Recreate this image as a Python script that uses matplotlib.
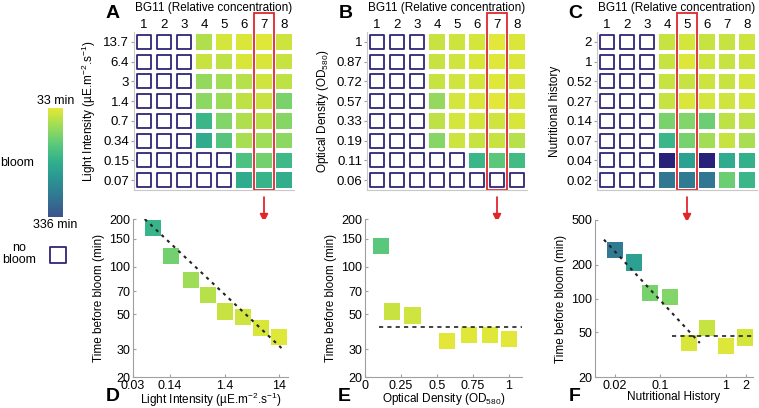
"""
Bloom timing heatmaps (A-C) with the highlighted column replotted below (D-F).
"""

import numpy as np
import matplotlib.pyplot as plt
from matplotlib.colors import ListedColormap, Normalize
from matplotlib.patches import Rectangle
from matplotlib.cm import ScalarMappable
from matplotlib.ticker import NullFormatter
import matplotlib.transforms as mtransforms

plt.rcParams['font.family'] = ['Liberation Sans', 'DejaVu Sans']
plt.rcParams['mathtext.fontset'] = 'custom'
plt.rcParams['mathtext.rm'] = 'Liberation Sans'
plt.rcParams['font.size'] = 8.5

N = np.nan

# ---- data -------------------------------------------------------------
bg11_cols = [1, 2, 3, 4, 5, 6, 7, 8]

light_levels = [13.7, 6.4, 3, 1.4, 0.7, 0.34, 0.15, 0.07]
light_times = [
    [N, N, N, 70, 45, 40, 36, 50],
    [N, N, N, 55, 60, 42, 41, 55],
    [N, N, N, 90, 80, 65, 48, 60],
    [N, N, N, 95, 85, 60, 52, 110],
    [N, N, N, 170, 105, 70, 66, 100],
    [N, N, N, 190, 140, 75, 82, 95],
    [N, N, N, N, N, 150, 116, 165],
    [N, N, N, N, N, 190, 175, 185],
]

od_levels = [1, 0.87, 0.72, 0.57, 0.33, 0.19, 0.11, 0.06]
od_times = [
    [N, N, N, 52, 50, 45, 35, 40],
    [N, N, N, 52, 48, 42, 37, 40],
    [N, N, N, 55, 48, 45, 37, 42],
    [N, N, N, 90, 45, 40, 34, 40],
    [N, N, N, 60, 45, 45, 49, 42],
    [N, N, N, 100, 50, 55, 52, 65],
    [N, N, N, N, N, 170, 135, 160],
    [N, N, N, N, N, N, N, N],
]

nutri_levels = [2, 1, 0.52, 0.27, 0.14, 0.07, 0.04, 0.02]
nutri_times = [
    [N, N, N, 55, 45, 55, 55, 50],
    [N, N, N, 55, 38, 50, 55, 50],
    [N, N, N, 55, 55, 50, 55, 45],
    [N, N, N, 55, 40, 45, 48, 45],
    [N, N, N, 110, 103, 120, 60, 60],
    [N, N, N, 170, 112, 80, 55, 75],
    [N, N, N, 400, 209, 450, 190, 180],
    [N, N, N, 280, 272, 280, 120, 170],
]

# highlighted column (1-based BG11 concentration) for each panel
light_col = 7
od_col = 7
nutri_col = 5

# fitted trends drawn on the lower panels
light_fit_x = [0.049, 15.2]
light_fit_y = [200, 30.5]
od_fit_x = [0.1, 1.09]
od_fit_y = [41.4, 41.4]
nutri_fit_x = [0.0137, 0.40]
nutri_fit_y = [334, 40.2]
nutri_plateau_x = [0.152, 2.6]
nutri_plateau_y = [46.5, 46.5]

t_min, t_max = 33, 336

# ---- style ------------------------------------------------------------
W, H = 759, 408
NAVY = '#2e2676'
RED = '#e0262b'
GREY = '#a0a0a0'

# viridis section, yellow end slightly washed out like the print
base = plt.cm.viridis(np.linspace(0.25, 0.95, 256))[::-1]
wash = np.linspace(0.14, 0.0, 256)[:, None]
base[:, :3] = base[:, :3] * (1 - wash) + wash
cmap = ListedColormap(base)
cmap.set_over('#28217a')
norm = Normalize(t_min, t_max)

fig = plt.figure(figsize=(W / 100, H / 100), dpi=100)


def px_axes(left, top, right, bottom):
    return fig.add_axes([left / W, 1 - bottom / H, (right - left) / W, (bottom - top) / H])


def heatmap(ax, levels, times, ylabel, col, letter):
    times = np.array(times, dtype=float)
    nrow = len(levels)
    yy, xx = np.mgrid[0:nrow, 0:len(bg11_cols)]
    xs = np.array(bg11_cols)[xx].ravel()
    ys = (nrow - yy).ravel()
    v = times.ravel()
    empty = np.isnan(v)
    ax.scatter(xs[empty], ys[empty], s=100, marker='s', facecolor='white',
               edgecolor=NAVY, linewidth=1.3)
    ax.scatter(xs[~empty], ys[~empty], c=v[~empty], cmap=cmap, norm=norm,
               s=121, marker='s', linewidth=0)
    ax.set_xlim(0.5, len(bg11_cols) + 0.5)
    ax.set_ylim(0.5, nrow + 0.5)
    ax.set_xticks(bg11_cols)
    ax.set_xticklabels([str(c) for c in bg11_cols])
    ax.xaxis.tick_top()
    ax.tick_params(axis='x', length=0, pad=1, labelsize=9.5)
    ax.set_yticks(np.arange(nrow, 0, -1))
    ax.set_yticklabels(['%g' % lv for lv in levels])
    ax.tick_params(axis='y', length=2, color=GREY, pad=1.5, labelsize=9.5)
    ax.set_ylabel(ylabel, labelpad=4)
    for s in ['top', 'right']:
        ax.spines[s].set_visible(False)
    for s in ['left', 'bottom']:
        ax.spines[s].set_color('#c8c8c8')
        ax.spines[s].set_linewidth(0.8)
    ax.text(0.5, 1.15, 'BG11 (Relative concentration)', transform=ax.transAxes,
            ha='center', va='center')
    ax.text(-0.135, 1.12, letter, transform=ax.transAxes, ha='center', va='center',
            fontsize=14, fontweight='bold')
    trans = mtransforms.blended_transform_factory(ax.transData, ax.transAxes)
    ax.add_patch(Rectangle((col - 0.5, 0.0), 1, 1.12, transform=trans, fill=False,
                           edgecolor=RED, linewidth=1.3, clip_on=False))
    ax.annotate('', xy=(col, -0.205), xytext=(col, -0.045),
                xycoords=('data', 'axes fraction'),
                arrowprops=dict(arrowstyle='-|>', color=RED, lw=1.3,
                                mutation_scale=12, shrinkA=0, shrinkB=0))


def lower(ax, x, y, xlabel, letter):
    ax.scatter(x, y, c=y, cmap=cmap, norm=norm, s=135, marker='s', linewidth=0,
               zorder=2)
    ax.set_yscale('log')
    ax.set_ylabel('Time before bloom (min)', labelpad=3)
    ax.set_xlabel(xlabel, labelpad=-0.5)
    for s in ['top', 'right']:
        ax.spines[s].set_visible(False)
    for s in ['left', 'bottom']:
        ax.spines[s].set_color(GREY)
        ax.spines[s].set_linewidth(0.8)
    ax.tick_params(which='both', direction='in', length=2.5, color=GREY, pad=2,
                   labelsize=9)
    ax.tick_params(which='minor', length=0)
    ax.yaxis.set_minor_formatter(NullFormatter())
    ax.xaxis.set_minor_formatter(NullFormatter())
    ax.text(-0.13, -0.125, letter, transform=ax.transAxes, ha='center', va='center',
            fontsize=14, fontweight='bold')


def column(levels, times, col):
    xs, ys = [], []
    for lv, row in zip(levels, times):
        if not np.isnan(row[col - 1]):
            xs.append(lv)
            ys.append(row[col - 1])
    return np.array(xs), np.array(ys)


# ---- heatmaps ---------------------------------------------------------
axA = px_axes(134, 32, 294, 190)
heatmap(axA, light_levels, light_times,
        r'Light Intensity (µE.m$^{\mathregular{-2}}$.s$^{\mathregular{-1}}$)', light_col, 'A')
axB = px_axes(367, 32, 527, 190)
heatmap(axB, od_levels, od_times, r'Optical Density (OD$_{\mathregular{580}}$)', od_col, 'B')
axC = px_axes(597, 32, 757, 190)
heatmap(axC, nutri_levels, nutri_times, 'Nutritional history', nutri_col, 'C')

# ---- lower panels -----------------------------------------------------
axD = px_axes(133, 219, 288, 377)
x, y = column(light_levels, light_times, light_col)
lower(axD, x, y, r'Light Intensity (µE.m$^{\mathregular{-2}}$.s$^{\mathregular{-1}}$)', 'D')
axD.plot(light_fit_x, light_fit_y, color='#222222', lw=1.5, dashes=(1.5, 2.2), zorder=3)
axD.set_xscale('log')
axD.xaxis.set_minor_formatter(NullFormatter())
axD.set_xlim(0.03, 20)
axD.set_ylim(20, 200)
axD.set_xticks([0.03, 0.14, 1.4, 14])
axD.set_xticklabels(['0.03', '0.14', '1.4', '14'])
axD.set_yticks([20, 30, 50, 70, 100, 150, 200])
axD.set_yticklabels(['20', '30', '50', '70', '100', '150', '200'])

axE = px_axes(365, 219, 522, 377)
x, y = column(od_levels, od_times, od_col)
lower(axE, x, y, r'Optical Density (OD$_{\mathregular{580}}$)', 'E')
axE.plot(od_fit_x, od_fit_y, color='#222222', lw=1.2, dashes=(2.5, 2.5), zorder=3)
axE.set_xlim(0, 1.09)
axE.set_ylim(20, 200)
axE.set_xticks([0, 0.25, 0.5, 0.75, 1])
axE.set_xticklabels(['0', '0.25', '0.5', '0.75', '1'])
axE.set_yticks([20, 30, 50, 70, 100, 150, 200])
axE.set_yticklabels(['20', '30', '50', '70', '100', '150', '200'])

axF = px_axes(595, 220, 753, 377)
x, y = column(nutri_levels, nutri_times, nutri_col)
lower(axF, x, y, 'Nutritional History', 'F')
axF.plot(nutri_fit_x, nutri_fit_y, color='#222222', lw=1.5, dashes=(1.5, 2.2), zorder=3)
axF.plot(nutri_plateau_x, nutri_plateau_y, color='#222222', lw=1.2, dashes=(2.5, 2.5), zorder=3)
axF.set_xscale('log')
axF.xaxis.set_minor_formatter(NullFormatter())
axF.set_xlim(0.01, 2.6)
axF.set_ylim(20, 500)
axF.set_xticks([0.02, 0.1, 1, 2])
axF.set_xticklabels(['0.02', '0.1', '1', '2'])
axF.set_yticks([20, 50, 100, 200, 500])
axF.set_yticklabels(['20', '50', '100', '200', '500'])

# ---- colour legend ----------------------------------------------------
cax = px_axes(48, 108, 63, 217)
cb = fig.colorbar(ScalarMappable(norm=Normalize(t_min, t_max), cmap=cmap), cax=cax)
cb.outline.set_visible(False)
cb.set_ticks([])
cax.invert_yaxis()
fig.text(55.5 / W, 1 - 101 / H, '%d min' % t_min, ha='center', va='center', fontsize=9)
fig.text(55.5 / W, 1 - 225 / H, '%d min' % t_max, ha='center', va='center', fontsize=9)
fig.text(17 / W, 1 - 163 / H, 'bloom', ha='center', va='center', fontsize=9)
fig.text(19 / W, 1 - 254 / H, 'no\nbloom', ha='center', va='center', linespacing=1.0,
         fontsize=9)
lax = px_axes(40, 237, 76, 273)
lax.scatter([0], [0], s=130, marker='s', facecolor='white', edgecolor=NAVY, linewidth=1.3)
lax.set_xlim(-1, 1)
lax.set_ylim(-1, 1)
lax.axis('off')

fig.savefig('out.png', dpi=100)
